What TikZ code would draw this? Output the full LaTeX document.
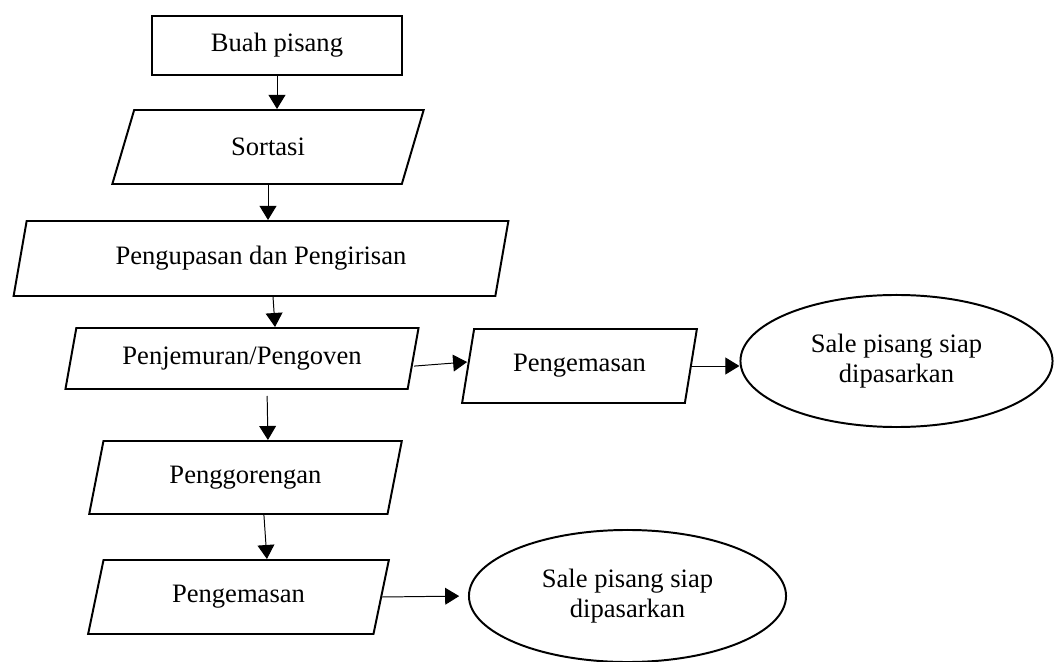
\documentclass[tikz,border=0pt]{standalone}
\usepackage{fontspec}
\setmainfont{Liberation Serif}
\usetikzlibrary{shapes.geometric,arrows.meta}

\begin{document}
\begin{tikzpicture}[x=0.025cm,y=-0.025cm,
	every node/.style={font=\fontsize{18.9}{21}\selectfont},
	kotak/.style={draw,line width=1.4pt,minimum width=6.25cm,minimum height=1.475cm},
	jajar/.style={draw,line width=1.4pt,trapezium,trapezium left angle=76,trapezium right angle=104,trapezium stretches=true},
	hasil/.style={draw,line width=1.4pt,ellipse,align=center,minimum width=7.8cm,minimum height=3.3cm},
	panah/.style={line width=0.7pt,-{Triangle[length=0.35cm,width=0.42cm]}}]
	\useasboundingbox (0,0) rectangle (1054,662);
	\node[kotak] (buah) at (277,45.5) {Buah pisang};
	\node[jajar,minimum width=7.8cm,minimum height=1.85cm] (sortasi) at (268,147) {Sortasi};
	\node[jajar,minimum width=12.4cm,minimum height=1.875cm] (kupas) at (261,258.5) {Pengupasan dan Pengirisan};
	\node[jajar,minimum width=8.85cm,minimum height=1.525cm] (jemur) at (242,358.5) {Penjemuran/Pengoven};
	\node[jajar,minimum width=5.875cm,minimum height=1.85cm] (kemas1) at (579.5,366) {Pengemasan};
	\node[hasil] (sale1) at (896.5,361) {Sale pisang siap\\dipasarkan};
	\node[jajar,minimum width=7.825cm,minimum height=1.825cm] (goreng) at (245.5,477.5) {Penggorengan};
	\node[jajar,minimum width=7.525cm,minimum height=1.85cm] (kemas2) at (238.5,597) {Pengemasan};
	\node[hasil,minimum width=7.925cm] (sale2) at (627.5,596) {Sale pisang siap\\dipasarkan};
	\draw[panah] (buah) -- (buah |- sortasi.north);
	\draw[panah] (sortasi.south) -- (sortasi.south |- kupas.north);
	\draw[panah] ([xshift=0.3cm]kupas.south) -- ([xshift=0.825cm]jemur.north);
	\draw[panah] ([yshift=-0.19cm]jemur.east) -- ([yshift=0.1cm]kemas1.west);
	\draw[panah] (kemas1.east) -- (kemas1.east -| sale1.west);
	\draw[panah,shorten <=0.15cm] ([xshift=0.625cm]jemur.south) -- ([xshift=0.56cm]goreng.north);
	\draw[panah] ([xshift=0.46cm]goreng.south) -- ([xshift=0.71cm]kemas2.north);
	\draw[panah,shorten >=0.22cm] (kemas2.east) -- (sale2.west);
\end{tikzpicture}
\end{document}
